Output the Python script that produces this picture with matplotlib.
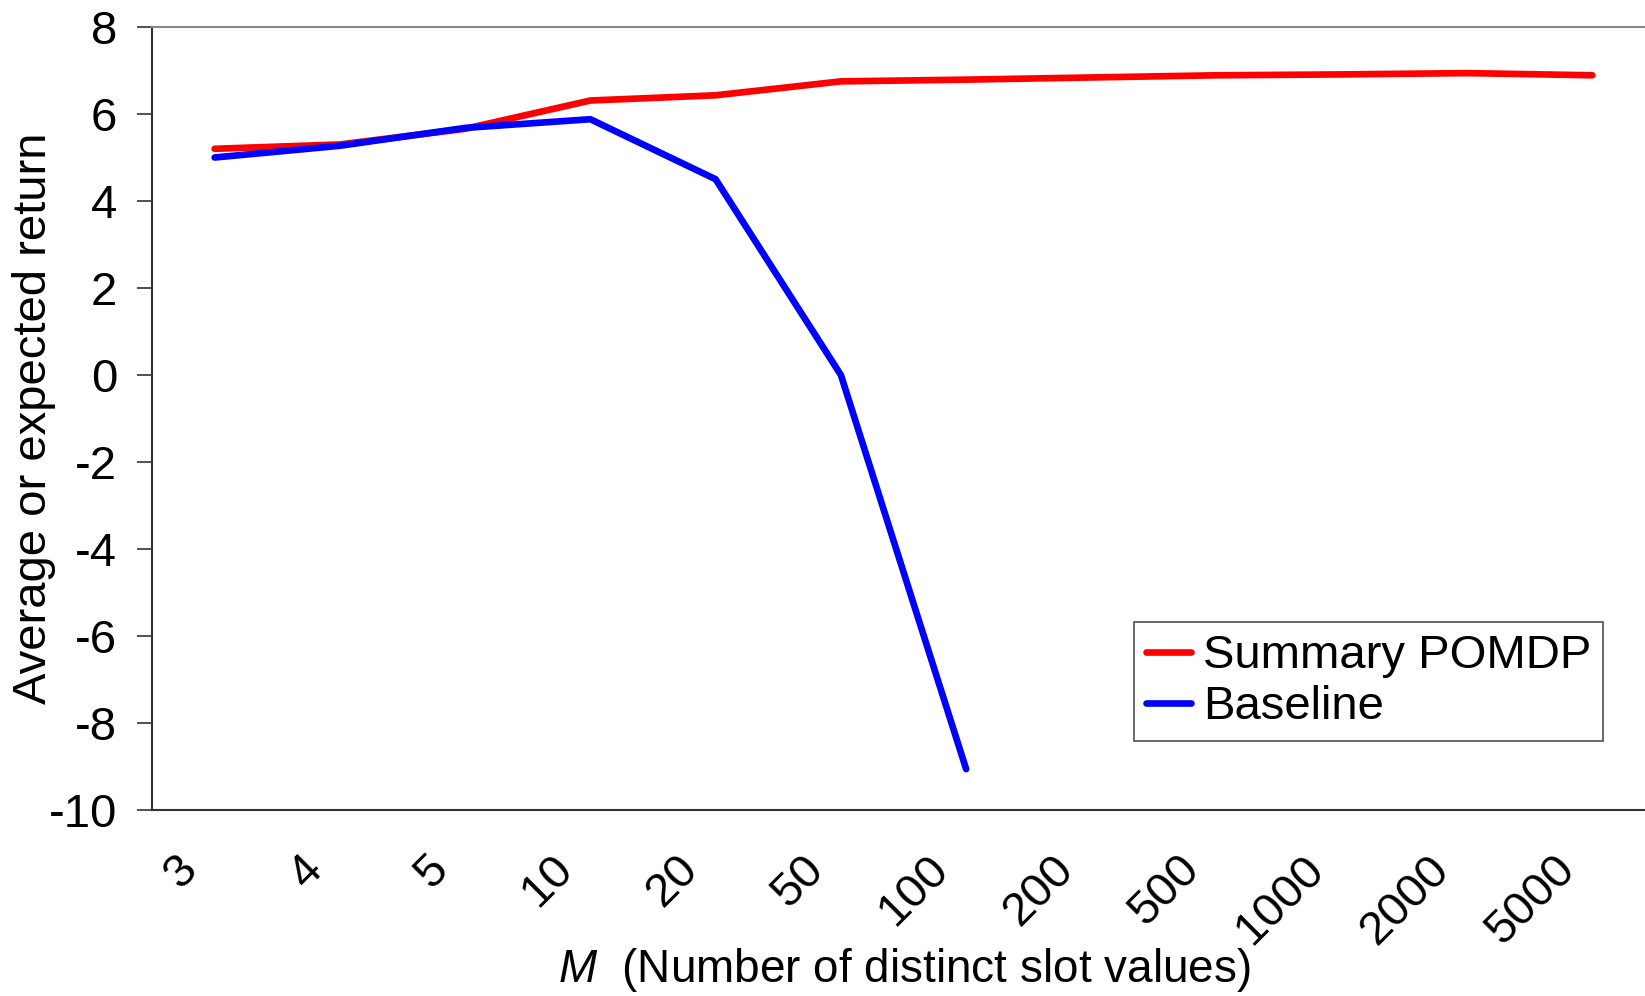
import matplotlib
matplotlib.use("Agg")
import matplotlib.pyplot as plt
from matplotlib.transforms import ScaledTranslation

plt.rcParams['font.family'] = ['Liberation Sans', 'DejaVu Sans']
plt.rcParams['mathtext.fontset'] = 'custom'
plt.rcParams['mathtext.it'] = 'Liberation Sans:italic'
plt.rcParams['mathtext.rm'] = 'Liberation Sans'

categories = ["3", "4", "5", "10", "20", "50", "100", "200", "500", "1000", "2000", "5000"]
summary_pomdp = [5.2, 5.3, 5.66, 6.31, 6.43, 6.75, 6.79, 6.84, 6.89, 6.91, 6.94, 6.89]
baseline = [5.0, 5.27, 5.68, 5.88, 4.5, 0.0, -9.06]
yticks = [-10, -8, -6, -4, -2, 0, 2, 4, 6, 8]

fig = plt.figure(figsize=(16.45, 9.96), dpi=100)
ax = fig.add_axes([152/1645, 1-810/996, 1-152/1645, (810-27)/996])

x_all = list(range(len(categories)))
ax.plot(x_all, summary_pomdp, color='#ff0000', lw=4.8, solid_capstyle='round',
        solid_joinstyle='round', label='Summary POMDP')
ax.plot(x_all[:len(baseline)], baseline, color='#0000ff', lw=4.8, solid_capstyle='round',
        solid_joinstyle='round', label='Baseline')

ax.set_xlim(-0.5, 11.42)
ax.set_ylim(-10, 8)
ax.set_yticks(yticks)
ax.set_yticklabels([str(v) for v in yticks], fontsize=34)
ax.tick_params(axis='y', direction='out', length=11, width=1.2, color='#333333', pad=14)

ax.set_xticks(x_all)
ax.set_xticklabels(categories, fontsize=34, rotation=45, ha='right', va='center',
                   rotation_mode='anchor')
ax.tick_params(axis='x', length=0, pad=38)
off = ScaledTranslation(-24/100, 0, fig.dpi_scale_trans)
for lab in ax.get_xticklabels():
    lab.set_transform(lab.get_transform() + off)

for s in ['left', 'bottom']:
    ax.spines[s].set_color('#333333')
    ax.spines[s].set_linewidth(1.5)
ax.spines['top'].set_color('#888888')
ax.spines['top'].set_linewidth(1.5)
ax.spines['right'].set_visible(False)

ax.set_ylabel('Average or expected return', fontsize=34)
ax.yaxis.set_label_coords((56-152)/1493, 0.5)
ax.set_xlabel(r'$M$  (Number of distinct slot values)', fontsize=33)
ax.xaxis.label.set_va('baseline')
ax.xaxis.set_label_coords((904.5-152)/1493, (810-982)/783)

leg = ax.legend(loc='lower right', bbox_to_anchor=(1603/1645, 1-741/996), bbox_transform=fig.transFigure,
                fontsize=34, frameon=True, fancybox=False, handlelength=0.95,
                handletextpad=0.25, borderpad=0.25, labelspacing=0.15, borderaxespad=0)
leg.get_frame().set_edgecolor('#222222')
leg.get_frame().set_linewidth(1.2)

fig.savefig('out.png', dpi=100)
